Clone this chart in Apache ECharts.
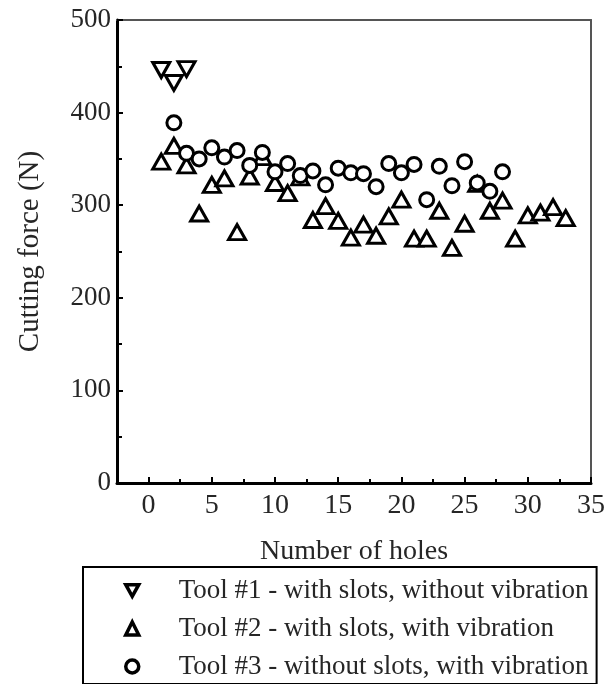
<!DOCTYPE html>
<html>
<head>
<meta charset="utf-8">
<script src="https://cdn.jsdelivr.net/npm/echarts@6/dist/echarts.min.js"></script>
<style>html,body{margin:0;padding:0;background:#fff}#c{width:608px;height:684px}</style>
</head>
<body>
<div id="c"></div>
<script>
// ---- data ----
const tool1X = [1, 2, 3];
const tool1Y = [446, 432, 447];
const tool2X = [1,2,3,4,5,6,7,8,9,10,11,12,13,14,15,16,17,18,19,20,21,22,23,24,25,26,27,28,29,30,31,32,33];
const tool2Y = [347,364,343,291,322,329,271,331,352,324,313,330,284,299,283,265,279,267,288,306,264,264,294,254,280,323,294,305,264,289,292,298,286];
const tool3X = [2,3,4,5,6,7,8,9,10,11,12,13,14,15,16,17,18,19,20,21,22,23,24,25,26,27,28];
const tool3Y = [389,356,350,362,352,359,343,357,336,345,332,337,322,340,335,334,320,345,335,344,306,342,321,347,324,315,336];
const seriesNames = ['Tool #1 - with slots, without vibration', 'Tool #2 - with slots, with vibration', 'Tool #3 - without slots, with vibration'];
const xMajorTicks = [0, 5, 10, 15, 20, 25, 30, 35];
const xMinorTicks = [-2.5, 2.5, 7.5, 12.5, 17.5, 22.5, 27.5, 32.5];
const xTitle = 'Number of holes';
const yTitle = 'Cutting force (N)';

const zip = (xs, ys) => xs.map((x, i) => [x, ys[i]]);
const FONT = 'Liberation Serif';
const TXT = '#262626';
const downTri = 'path://M0,0 L20,0 L10,18 Z';

const chart = echarts.init(document.getElementById('c'), null, {renderer: 'canvas'});
const markerStyle = {color: '#fff', borderColor: '#000', borderWidth: 3, opacity: 1};
chart.setOption({
  animation: false,
  backgroundColor: '#fff',
  grid: {left: 117, right: 16, top: 20, bottom: 201, containLabel: false},
  xAxis: [{
    type: 'value', position: 'bottom', min: -2.5, max: 35,
    axisLine: {show: true, onZero: false, lineStyle: {color: '#000', width: 3}},
    axisTick: {show: true, inside: true, length: 6, customValues: xMajorTicks, lineStyle: {color: '#000', width: 2}},
    axisLabel: {customValues: xMajorTicks, fontFamily: FONT, fontSize: 28, color: TXT, margin: 9},
    splitLine: {show: false},
    name: xTitle, nameLocation: 'middle', nameGap: 55,
    nameTextStyle: {fontFamily: FONT, fontSize: 28, color: TXT}
  }, {
    type: 'value', position: 'bottom', min: -2.5, max: 35,
    axisLine: {show: false},
    axisTick: {show: true, inside: true, length: 4, customValues: xMinorTicks, lineStyle: {color: '#000', width: 2}},
    axisLabel: {show: false},
    splitLine: {show: false}
  }, {
    type: 'value', position: 'top', min: -2.5, max: 35,
    axisLine: {show: true, onZero: false, lineStyle: {color: '#555', width: 2}},
    axisTick: {show: false}, axisLabel: {show: false}, splitLine: {show: false}
  }],
  yAxis: [{
    type: 'value', position: 'left', min: 0, max: 500, interval: 100,
    axisLine: {show: true, onZero: false, lineStyle: {color: '#000', width: 3}},
    axisTick: {show: true, inside: true, length: 6, lineStyle: {color: '#000', width: 2}},
    minorTick: {show: true, splitNumber: 2, length: 5, lineStyle: {color: '#000', width: 2}},
    axisLabel: {fontFamily: FONT, fontSize: 27, color: TXT, margin: 6},
    splitLine: {show: false},
    name: yTitle, nameLocation: 'middle', nameGap: 72, nameRotate: 90,
    nameTextStyle: {fontFamily: FONT, fontSize: 29, color: TXT}
  }, {
    type: 'value', position: 'right', min: 0, max: 500,
    axisLine: {show: true, onZero: false, lineStyle: {color: '#555', width: 2}},
    axisTick: {show: false}, axisLabel: {show: false}, splitLine: {show: false}
  }],
  legend: {
    show: true, orient: 'vertical', left: 83, top: 567,
    borderColor: '#000', borderWidth: 2,
    padding: [10, 8, 4, 41],
    itemWidth: 13, itemHeight: 13, itemGap: 11,
    itemStyle: {color: '#fff', borderColor: '#000', borderWidth: 3.5},
    textStyle: {fontFamily: FONT, fontSize: 27, color: TXT, lineHeight: 26, padding: [0, 0, 0, 35]},
    data: [
      {name: seriesNames[0], icon: downTri},
      {name: seriesNames[1], icon: 'triangle'},
      {name: seriesNames[2], icon: 'circle'}
    ]
  },
  series: [{
    name: seriesNames[0], type: 'scatter', data: zip(tool1X, tool1Y),
    symbol: downTri, symbolSize: [17, 15], itemStyle: markerStyle, z: 3
  }, {
    name: seriesNames[1], type: 'scatter', data: zip(tool2X, tool2Y),
    symbol: 'triangle', symbolSize: [17, 15], itemStyle: markerStyle, z: 2
  }, {
    name: seriesNames[2], type: 'scatter', data: zip(tool3X, tool3Y),
    symbol: 'circle', symbolSize: 14, itemStyle: markerStyle, z: 4
  }]
});
</script>
</body>
</html>
